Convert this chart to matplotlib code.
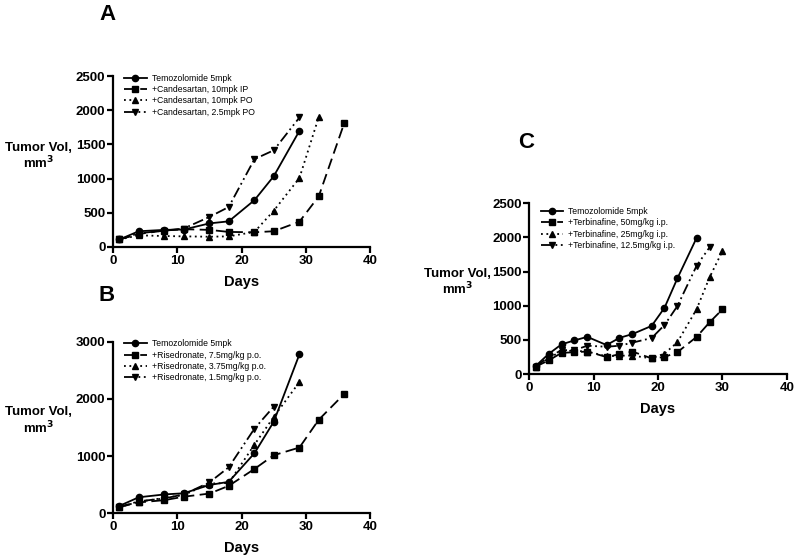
import matplotlib
matplotlib.use("Agg")
import matplotlib.pyplot as plt

plt.rcParams['font.family'] = ['Liberation Sans', 'DejaVu Sans']

# ---------------- Data ----------------
# Panel A
a_labels = ["Temozolomide 5mpk", "+Candesartan, 10mpk IP",
            "+Candesartan, 10mpk PO", "+Candesartan, 2.5mpk PO"]
a_days_tmz = [1, 4, 8, 11, 15, 18, 22, 25, 29]
a_tmz = [110, 230, 250, 255, 345, 375, 685, 1035, 1700]
a_days_ip10 = [1, 4, 8, 11, 15, 18, 22, 25, 29, 32, 36]
a_ip10 = [110, 190, 240, 260, 250, 220, 215, 230, 370, 740, 1820]
a_days_po10 = [1, 4, 8, 11, 15, 18, 22, 25, 29, 32]
a_po10 = [110, 170, 160, 155, 150, 155, 220, 530, 1010, 1900]
a_days_po25 = [1, 4, 8, 11, 15, 18, 22, 25, 29]
a_po25 = [110, 200, 240, 270, 440, 585, 1285, 1415, 1895]

# Panel B
b_labels = ["Temozolomide 5mpk", "+Risedronate, 7.5mg/kg p.o.",
            "+Risedronate, 3.75mg/kg p.o.", "+Risedronate, 1.5mg/kg p.o."]
b_days_tmz = [1, 4, 8, 11, 15, 18, 22, 25, 29]
b_tmz = [130, 280, 330, 350, 495, 550, 1050, 1600, 2780]
b_days_r75 = [1, 4, 8, 11, 15, 18, 22, 25, 29, 32, 36]
b_r75 = [110, 190, 230, 290, 345, 480, 775, 1015, 1150, 1635, 2090]
b_days_r375 = [1, 4, 8, 11, 15, 18, 22, 25, 29]
b_r375 = [110, 200, 270, 320, 520, 530, 1200, 1685, 2295]
b_days_r15 = [1, 4, 8, 11, 15, 18, 22, 25]
b_r15 = [110, 210, 260, 330, 540, 805, 1480, 1865]

# Panel C
c_labels = ["Temozolomide 5mpk", "+Terbinafine, 50mg/kg i.p.",
            "+Terbinafine, 25mg/kg i.p.", "+Terbinafine, 12.5mg/kg i.p."]
c_days_tmz = [1, 3, 5, 7, 9, 12, 14, 16, 19, 21, 23, 26]
c_tmz = [120, 295, 435, 493, 545, 425, 530, 585, 705, 970, 1400, 1995]
c_days_t50 = [1, 3, 5, 7, 9, 12, 14, 16, 19, 21, 23, 26, 28, 30]
c_t50 = [110, 200, 310, 320, 330, 250, 290, 330, 230, 250, 320, 545, 757, 947]
c_days_t25 = [1, 3, 5, 7, 9, 12, 14, 16, 19, 21, 23, 26, 28, 30]
c_t25 = [110, 230, 340, 340, 330, 260, 270, 270, 230, 300, 465, 952, 1415, 1800]
c_days_t125 = [1, 3, 5, 7, 9, 12, 14, 16, 19, 21, 23, 26, 28]
c_t125 = [110, 250, 350, 350, 415, 400, 415, 460, 527, 718, 995, 1587, 1855]

x_ticks = [0, 10, 20, 30, 40]

# ---------------- Styles ----------------
styles = [
    dict(ls='-', marker='o'),
    dict(ls=(0, (6, 3)), marker='s'),
    dict(ls=(0, (1, 2)), marker='^'),
    dict(ls=(0, (6, 2, 1, 2, 1, 2)), marker='v'),
]

fig = plt.figure(figsize=(7.96, 5.6), dpi=100)


def make_panel(rect, series, labels, yticks, ymax, leg_anchor):
    ax = fig.add_axes(rect)
    for (d, v), st, lab in zip(series, styles, labels):
        ax.plot(d, v, color='black', lw=1.3, ls=st['ls'], marker=st['marker'],
                ms=4.5, label=lab, clip_on=False)
    ax.set_xlim(0, 40)
    ax.set_ylim(0, ymax)
    ax.set_xticks(x_ticks)
    ax.set_yticks(yticks)
    for s in ['top', 'right']:
        ax.spines[s].set_visible(False)
    for s in ['left', 'bottom']:
        ax.spines[s].set_linewidth(1.6)
    ax.tick_params(width=1.6, length=4, labelsize=9.5, pad=1.5)
    for t in ax.get_xticklabels() + ax.get_yticklabels():
        t.set_fontweight('bold')
    ax.set_xlabel('Days', fontsize=10.5, fontweight='bold', labelpad=6)
    ax.legend(loc='upper left', bbox_to_anchor=leg_anchor, frameon=False,
              fontsize=6.2, handlelength=2.6, handletextpad=0.6,
              labelspacing=0.28, borderaxespad=0)
    return ax


axA = make_panel([0.142, 0.559, 0.323, 0.305],
                 [(a_days_tmz, a_tmz), (a_days_ip10, a_ip10),
                  (a_days_po10, a_po10), (a_days_po25, a_po25)],
                 a_labels, [0, 500, 1000, 1500, 2000, 2500], 2500, (0.03, 1.035))
axB = make_panel([0.142, 0.0834, 0.323, 0.3064],
                 [(b_days_tmz, b_tmz), (b_days_r75, b_r75),
                  (b_days_r375, b_r375), (b_days_r15, b_r15)],
                 b_labels, [0, 1000, 2000, 3000], 3000, (0.03, 1.035))
axC = make_panel([0.665, 0.332, 0.3234, 0.305],
                 [(c_days_tmz, c_tmz), (c_days_t50, c_t50),
                  (c_days_t25, c_t25), (c_days_t125, c_t125)],
                 c_labels, [0, 500, 1000, 1500, 2000, 2500], 2500, (0.03, 1.0))

ylab = 'Tumor Vol,\nmm$\\mathbf{^3}$'
for (x, y) in [(0.048, 0.72), (0.048, 0.248), (0.575, 0.495)]:
    fig.text(x, y, ylab, ha='center', va='center', fontsize=9.5,
             fontweight='bold', linespacing=1.1)

for (x, y, t) in [(0.1345, 0.975, 'A'), (0.1345, 0.473, 'B'), (0.661, 0.745, 'C')]:
    fig.text(x, y, t, ha='center', va='center', fontsize=16, fontweight='bold')

fig.savefig('out.png', dpi=100)
